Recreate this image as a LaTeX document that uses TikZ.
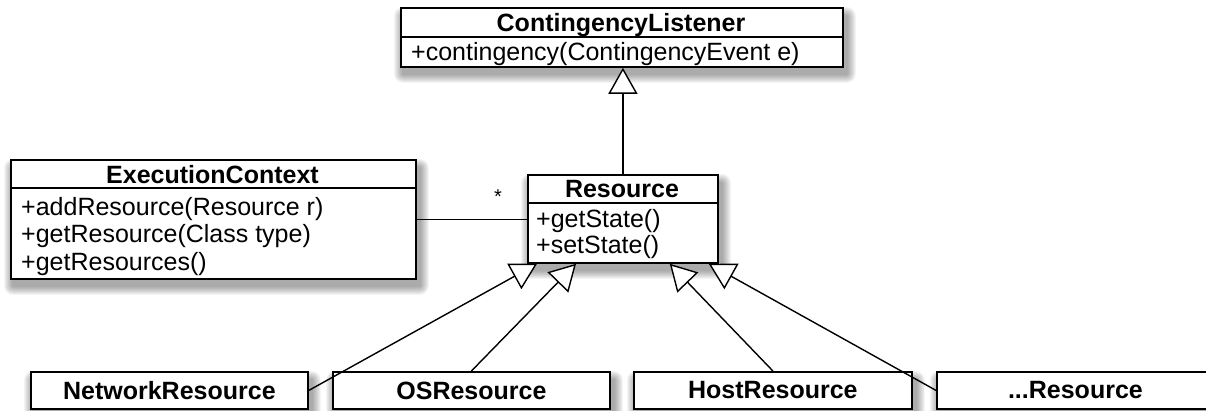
\documentclass[tikz,border=0pt]{standalone}
\usepackage{fontspec}
\setmainfont{Liberation Sans}
\usetikzlibrary{arrows.meta,calc,backgrounds}
\newcommand{\boxshade}[1]{%
  \foreach \r in {1,...,9}{%
    \fill[black, opacity=0.045, rounded corners=\r pt]
      ($(#1.north west)+(3-\r,9-\r)$) rectangle ($(#1.south east)+(3+\r,6+\r)$);
  }}
\begin{document}
\begin{tikzpicture}[x=1pt,y=-1pt,
  cls/.style={draw=black, line width=1.8pt, fill=white, inner sep=0pt, anchor=north west},
  leaf/.style={cls, minimum height=37pt, font=\fontsize{25}{30}\selectfont\bfseries},
  txt/.style={inner sep=0pt, anchor=base west, font=\fontsize{25}{30}\selectfont},
  ttl/.style={inner sep=0pt, anchor=base, font=\fontsize{25}{30}\selectfont\bfseries},
  divider/.style={line width=1.6pt},
  conn/.style={line width=1.4pt},
  gen/.style={conn, -{Triangle[length=26pt, width=29pt, fill=white]}}
]
\useasboundingbox (0,0) rectangle (1206,410);
\clip (0,0) rectangle (1206,410);

% ContingencyListener
\node[cls, minimum width=442pt, minimum height=59pt] (cl) at (400,7) {};
\draw[divider] ($(cl.north west)+(0,30)$) -- ($(cl.north east)+(0,30)$);
\node[ttl] (clt) at (621,31) {ContingencyListener};
\node[txt] (clm) at (411,60) {+contingency(ContingencyEvent e)};

% ExecutionContext
\node[cls, minimum width=405pt, minimum height=119pt] (ec) at (10,159) {};
\draw[divider] ($(ec.north west)+(0,29)$) -- ($(ec.north east)+(0,29)$);
\node[ttl] (ect) at (212.5,183) {ExecutionContext};
\node[txt] (ec1) at (21,215) {+addResource(Resource r)};
\node[txt] (ec2) at (21,242.5) {+getResource(Class type)};
\node[txt] (ec3) at (21,270) {+getResources()};

% Resource
\node[cls, minimum width=190pt, minimum height=88pt] (res) at (527,174) {};
\draw[divider] ($(res.north west)+(0,29)$) -- ($(res.north east)+(0,29)$);
\node[ttl] (rest) at (622,197) {Resource};
\node[txt] (res1) at (536,227) {+getState()};
\node[txt] (res2) at (536,253) {+setState()};

% leaf classes
\node[leaf, minimum width=277pt] (nr) at (30,371) {NetworkResource};
\node[leaf, minimum width=277pt] (os) at (332,371) {OSResource};
\node[leaf, minimum width=278pt] (hr) at (633,371) {HostResource};
\node[leaf, minimum width=277pt] (mr) at (936,371) {...Resource};

% soft shadows
\begin{scope}[on background layer]
  \boxshade{cl}
  \boxshade{ec}
  \boxshade{res}
  \boxshade{nr}
  \boxshade{os}
  \boxshade{hr}
  \boxshade{mr}
\end{scope}

% association
\draw[conn] (ec.east) -- (ec.east -| res.west);
\node[inner sep=0pt, anchor=base, font=\fontsize{20}{24}\selectfont] (star) at (498,203) {*};

% generalizations
\draw[gen] (res.north) -- (res.north |- cl.south);
\draw[gen] (nr.east) -- ($(res.south west)+(10,0)$);
\draw[gen] (os.north) -- ($(res.south west)+(49,0)$);
\draw[gen] (hr.north) -- ($(res.south east)+(-49,0)$);
\draw[gen] (mr.west) -- ($(res.south east)+(-10,0)$);
\end{tikzpicture}
\end{document}
